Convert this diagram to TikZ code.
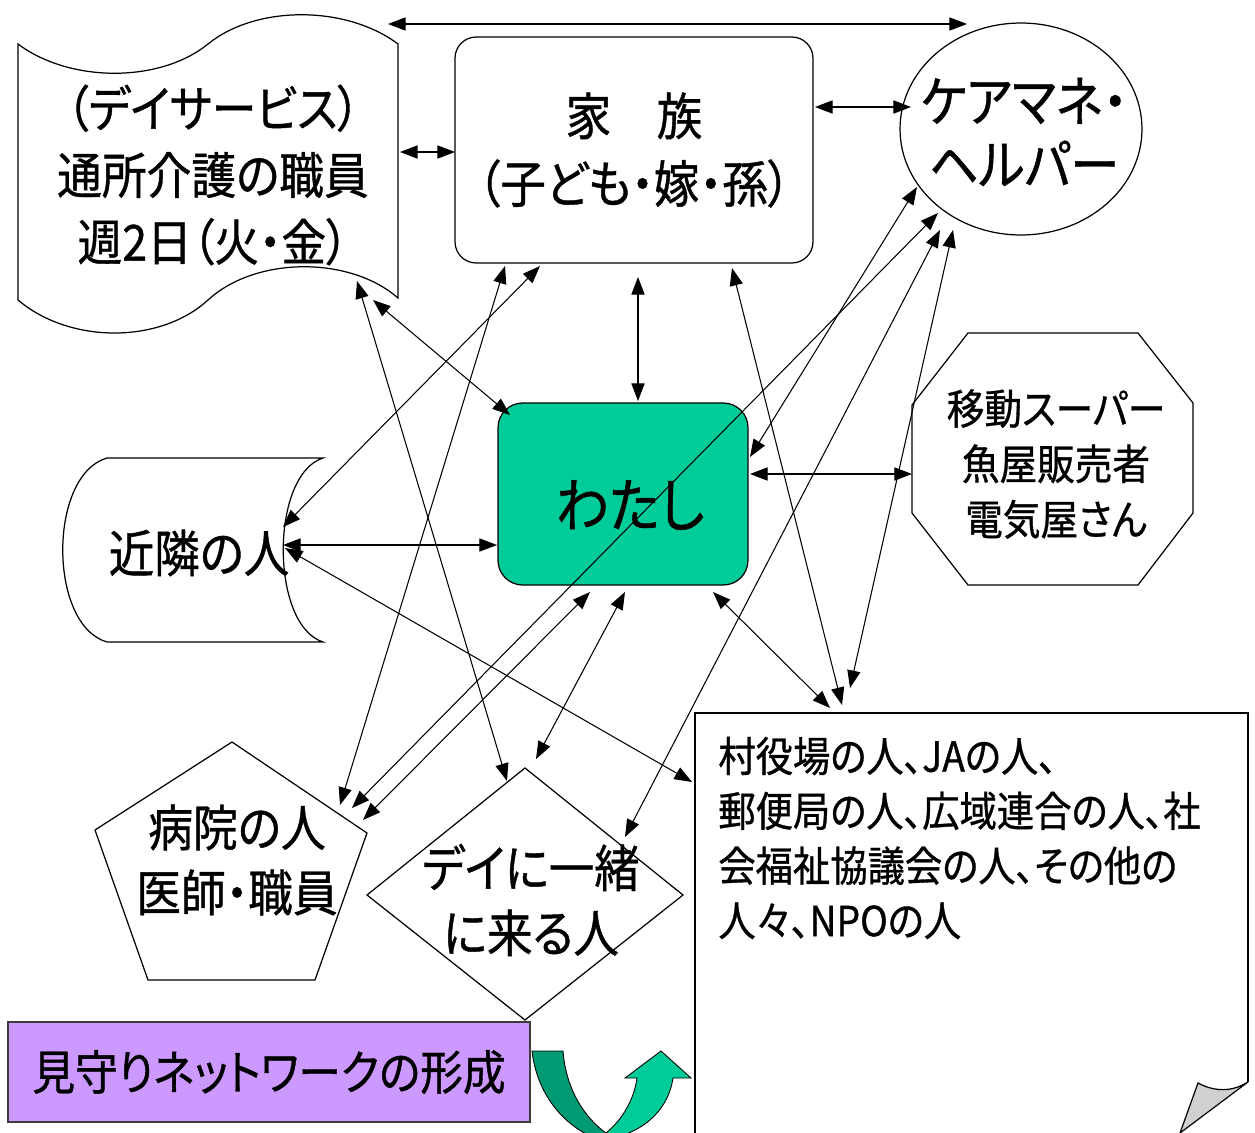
\documentclass[tikz,border=0pt]{standalone}
\usepackage{fontspec}
\setmainfont{Noto Sans CJK JP}[RawFeature=+palt, FakeStretch=0.9, FakeBold=0.8]
\usetikzlibrary{arrows.meta}
\definecolor{mint}{RGB}{0,204,153}
\definecolor{mintdark}{RGB}{0,155,115}
\definecolor{lilac}{RGB}{204,153,255}
\definecolor{curlgray}{RGB}{208,208,208}
\definecolor{edgegray}{RGB}{60,60,60}
\tikzset{
  >={Triangle[length=10pt,width=7.5pt]},
  shp/.style={draw=black, line width=0.7pt},
  arr/.style={<->, line width=0.6pt},
  txt/.style={inner sep=0pt, align=center},
}
\begin{document}
\begin{tikzpicture}[x=0.02cm,y=-0.02cm]
\useasboundingbox (0,0) rectangle (1255,1133);
\clip (0,0) rectangle (1255,1133);

% day-service staff (wave shape)
\draw[shp] (18,44) .. controls (70,83) and (160,83) .. (208,44) .. controls (256,5) and (346,5) .. (398,44) -- (398,298) .. controls (350,256) and (256,256) .. (208,300) .. controls (160,344) and (70,344) .. (18,300) -- cycle;
\node[txt, font=\fontsize{28.3}{38}\selectfont] (doc) at (213,175) {（デイサービス）\\通所介護の職員\\週2日（火・金）};

% family
\node[shp, rounded corners=12pt, minimum width=7.16cm, minimum height=4.52cm, align=center, inner sep=0pt, font=\fontsize{28.8}{38.5}\selectfont] (fam) at (634,150) {家　族\\（子ども・嫁・孫）};

% care manager
\draw[shp] (1021,129) ellipse [x radius=2.42cm, y radius=2.12cm];
\node[txt, font=\fontsize{31}{36}\selectfont] (cm) at (1024,132) {ケアマネ・\\ヘルパー};

% watashi
\node[shp, fill=mint, rounded corners=14pt, minimum width=5cm, minimum height=3.64cm] (me) at (623,494) {};
\node[txt, font=\fontsize{33.5}{36}\selectfont] (metxt) at (630,505) {わたし};

% shops (octagon)
\draw[shp] (968,333) -- (1138,333) -- (1193,403) -- (1193,513) -- (1138,585) -- (968,585) -- (912,513) -- (912,405) -- cycle;
\node[txt, font=\fontsize{23.8}{31.5}\selectfont] (oct) at (1056,464) {移動スーパー\\魚屋販売者\\電気屋さん};

% neighbours
\draw[shp] (323,458) -- (107,458) .. controls (48,475) and (48,625) .. (107,642) -- (323,642) .. controls (270,625) and (270,475) .. (323,458) -- cycle;
\node[txt, font=\fontsize{28.8}{36}\selectfont] (nb) at (199,553) {近隣の人};

% hospital (pentagon)
\draw[shp] (232,742) -- (367,833) -- (315,980) -- (148,980) -- (95,830) -- cycle;
\node[txt, font=\fontsize{28.3}{37}\selectfont] (hosp) at (237,860) {病院の人\\医師・職員};

% day companions (diamond)
\draw[shp] (525,768) -- (683,895) -- (525,1020) -- (367,895) -- cycle;
\node[txt, font=\fontsize{28.8}{37}\selectfont] (dei) at (531,900) {デイに一緒\\に来る人};

% village office etc. (page with curl)
\draw[shp] (695,1150) -- (695,713) -- (1248,713) -- (1248,1082);
\filldraw[shp, fill=curlgray] (1198,1083) .. controls (1215,1092) and (1232,1092) .. (1248,1082) -- (1180,1133) -- cycle;
\node[txt, align=left, anchor=west, font=\fontsize{23.6}{31.2}\selectfont] (vil) at (718,838) {村役場の人、JAの人、\\郵便局の人、広域連合の人、社\\会福祉協議会の人、その他の\\人々、NPOの人};

% banner
\node[draw=edgegray, line width=0.7pt, fill=lilac, minimum width=10.44cm, minimum height=2cm, inner sep=0pt, font=\fontsize{27}{30}\selectfont] (ban) at (269,1072) {見守りネットワークの形成};

% U-turn arrow
\filldraw[fill=mintdark, draw=black, line width=0.5pt] (532,1051) -- (563,1051) .. controls (566,1090) and (585,1118) .. (606,1133) -- (600,1140) .. controls (565,1128) and (537,1095) .. (532,1051) -- cycle;
\filldraw[fill=mint, draw=black, line width=0.5pt] (606,1133) .. controls (622,1120) and (634,1100) .. (637,1078) -- (625,1078) -- (661,1051) -- (691,1078) -- (673,1078) .. controls (668,1112) and (640,1136) .. (600,1140) -- cycle;

% connector end points
\coordinate (a1s) at (388,24);   \coordinate (a1e) at (967,24);
\coordinate (a2s) at (400,152);  \coordinate (a2e) at (455,152);
\coordinate (a3s) at (815,107);  \coordinate (a3e) at (911,107);
\coordinate (a4s) at (638,277);  \coordinate (a4e) at (638,401);
\coordinate (a5s) at (373,300);  \coordinate (a5e) at (510,415);
\coordinate (a6s) at (357,281);  \coordinate (a6e) at (507,781);
\coordinate (a7s) at (540,266);  \coordinate (a7e) at (283,527);
\coordinate (a8s) at (505,266);  \coordinate (a8e) at (340,805);
\coordinate (a9s) at (732,268);  \coordinate (a9e) at (842,705);
\coordinate (a10s) at (917,187); \coordinate (a10e) at (750,457);
\coordinate (a11s) at (938,213); \coordinate (a11e) at (352,808);
\coordinate (a12s) at (590,592); \coordinate (a12e) at (363,820);
\coordinate (a13s) at (625,592); \coordinate (a13e) at (536,759);
\coordinate (a14s) at (713,592); \coordinate (a14e) at (830,708);
\coordinate (a15s) at (750,474); \coordinate (a15e) at (912,474);
\coordinate (a16s) at (283,545); \coordinate (a16e) at (497,545);
\coordinate (a17s) at (285,548); \coordinate (a17e) at (692,782);
\coordinate (a18s) at (953,230); \coordinate (a18e) at (850,688);
\coordinate (a19s) at (940,230); \coordinate (a19e) at (625,837);

\foreach \i in {1,...,19} \draw[arr] (a\i s) -- (a\i e);
\end{tikzpicture}
\end{document}
